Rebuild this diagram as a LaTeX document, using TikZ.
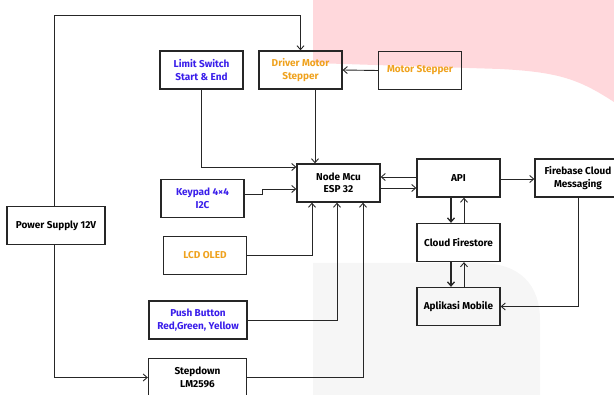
\documentclass[tikz,border=0pt]{standalone}
\usepackage{fontspec}
\setmainfont{Fira Sans}
\usetikzlibrary{arrows.meta,positioning,calc}
\definecolor{Bc}{HTML}{3A1EEA}
\definecolor{Oc}{HTML}{EFA21E}
\definecolor{Pk}{HTML}{FFD8DC}
\definecolor{Gy}{HTML}{F6F6F6}

\begin{document}
\begin{tikzpicture}[x=1pt, y=-1pt, font=\fontsize{10}{12.5}\selectfont\bfseries,
    box/.style={draw=black!85, line width=1.3pt, align=center, minimum width=83pt,
      minimum height=38pt, inner sep=2pt},
    wide/.style={box, minimum width=98pt},
    arr/.style={-{Straight Barb[length=4pt,width=7pt]}, line width=0.9pt, black!85},
    thk/.style={arr, line width=1.3pt}]
  \useasboundingbox (0,0) rectangle (614,395);
  \clip (0,0) rectangle (614,395);
  % background shapes
  \fill[Pk] (313,0) -- (614,0) -- (614,102) .. controls (580,80) and (560,72) .. (500,69)
    -- (313,63) -- cycle;
  \fill[Gy] (313,400) -- (313,263) -- (480,263) .. controls (520,263) and (540,285) .. (540,320)
    -- (540,400) -- cycle;
  % blocks
  \node[box, text=Bc] (ls) at (201.5,70) {Limit Switch\\ Start \& End};
  \node[box, text=Oc] (drv) at (300.5,70) {Driver Motor\\ Stepper};
  \node[box, text=Oc] (mot) at (420,70.5) {Motor Stepper};
  \node[box] (mcu) at (338.5,183) {Node Mcu\\ ESP 32};
  \node[box, text=Bc] (kp) at (202.5,198.5) {Keypad 4×4\\ I2C};
  \node[box, text=Oc] (lcd) at (205,255.5) {LCD OLED};
  \node[wide, text=Bc] (pb) at (198,320) {Push Button\\ Red,Green, Yellow};
  \node[wide] (sd) at (197.5,377.5) {Stepdown\\ LM2596};
  \node[wide] (ps) at (56,225.5) {Power Supply 12V};
  \node[box] (api) at (458.5,178) {API};
  \node[box, minimum width=86pt] (fcm) at (578,178) {Firebase Cloud\\ Messaging};
  \node[box] (cf) at (458.5,242.5) {Cloud Firestore};
  \node[box] (app) at (458.5,306.5) {Aplikasi Mobile};
  \coordinate (top) at (0,15);
  % connectors
  \draw[arr] ([xshift=-2pt]ps.north) -- ([xshift=-2pt]ps.north |- top) -| (drv.north);
  \draw[arr] ([xshift=-2pt]ps.south) |- (sd.west);
  \draw[arr] (mot.west) -- (drv.east);
  \draw[arr] (ls.south) |- ([yshift=16pt]mcu.west);
  \draw[arr] ([xshift=14.5pt]drv.south) -- ([xshift=-23.5pt]mcu.north);
  \draw[arr] ([yshift=4.5pt]kp.east) -- ++(18,0) |- ([yshift=-6pt]mcu.west);
  \draw[arr] (lcd.east) -| ([xshift=-26.5pt]mcu.south);
  \draw[arr] (pb.east) -| ([xshift=-1.5pt]mcu.south);
  \draw[arr] (sd.east) -| ([xshift=24.5pt]mcu.south);
  \draw[arr] ([yshift=1pt]api.west) -- ([yshift=6pt]mcu.east);
  \draw[arr] ([yshift=-5pt]mcu.east) -- ([yshift=-10pt]api.west);
  \draw[arr] ([yshift=-1pt]api.east) -- ([yshift=-1pt]fcm.west);
  \draw[thk] ([xshift=-7.5pt]api.south) -- ([xshift=-7.5pt]cf.north);
  \draw[arr] ([xshift=5.5pt]cf.north) -- ([xshift=5.5pt]api.south);
  \draw[thk] ([xshift=-7.5pt]cf.south) -- ([xshift=-7.5pt]app.north);
  \draw[arr] ([xshift=5.5pt]app.north) -- ([xshift=5.5pt]cf.south);
  \draw[arr] (fcm.south) |- (app.east);
\end{tikzpicture}
\end{document}
